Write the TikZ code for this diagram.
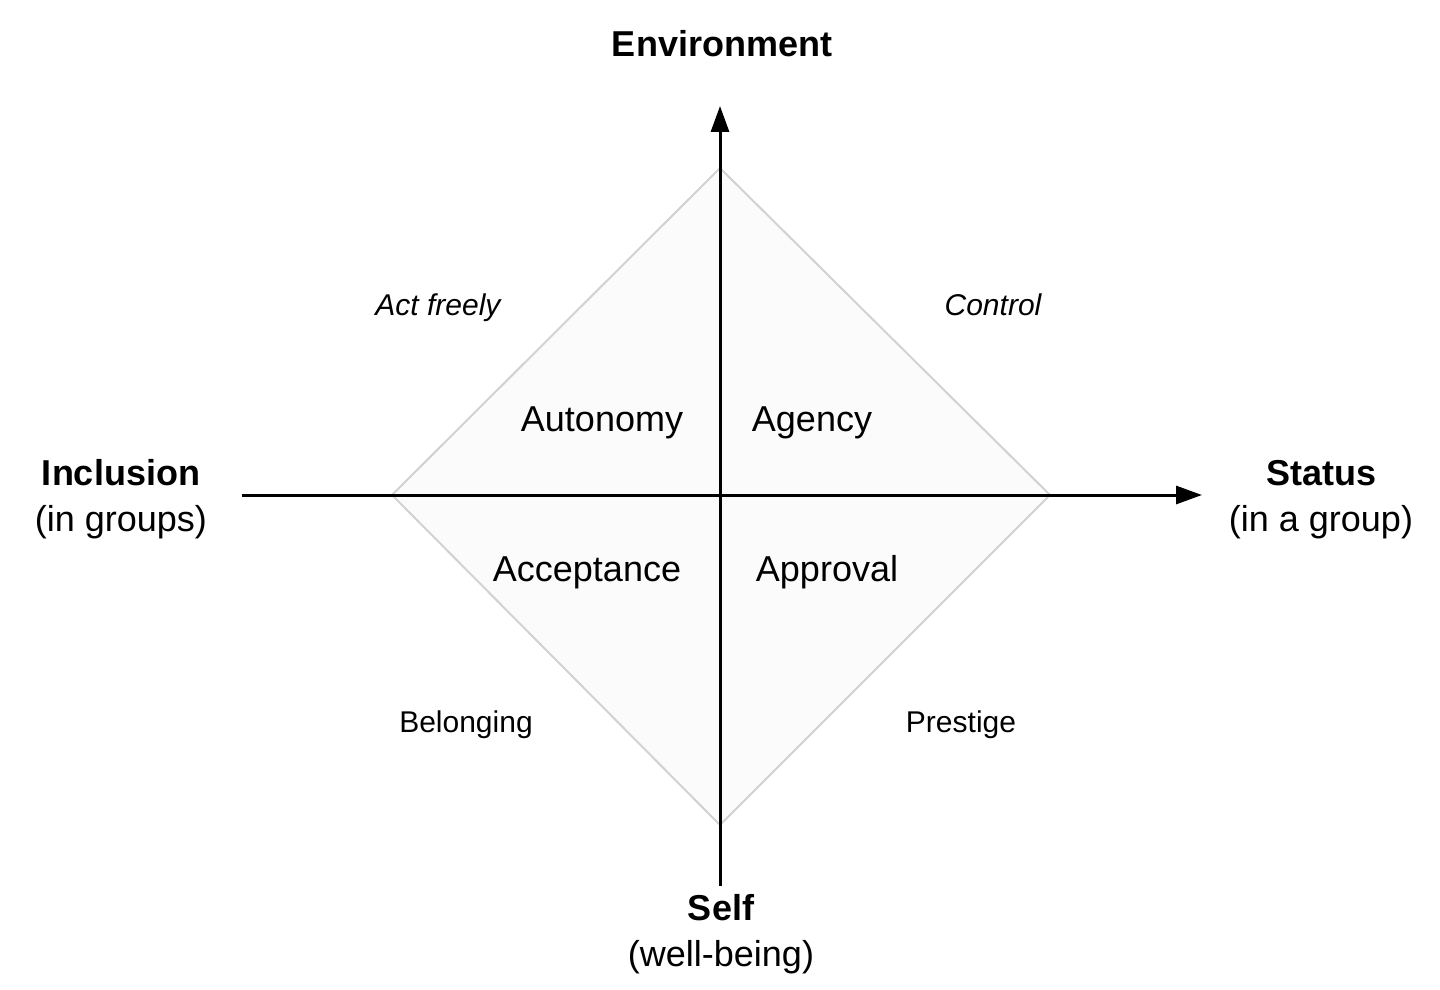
\documentclass[tikz,border=0pt]{standalone}
\usepackage{fontspec}
\setmainfont{Liberation Sans}
\usetikzlibrary{arrows.meta, positioning}

\begin{document}
\begin{tikzpicture}[x=0.5pt, y=-0.5pt]
            \useasboundingbox (0, 0) rectangle (1440, 990);
            % Diamond in the background
            \coordinate (dtop) at (720, 168);
            \coordinate (dright) at (1050, 495);
            \coordinate (dbottom) at (720, 825);
            \coordinate (dleft) at (392, 495);
            \draw[line width=1pt, draw=gray!35, fill=gray!3] (dtop) -- (dright) -- (dbottom) -- (dleft) -- cycle;

            % Axes
            \coordinate (xstart) at (242, 495);
            \coordinate (xend) at (1202, 495);
            \coordinate (ystart) at (720, 886);
            \coordinate (yend) at (720, 106);
            \draw[line width=1.5pt, -{Triangle[length=13pt, width=9pt]}] (xstart) -- (xend);
            \draw[line width=1.5pt, -{Triangle[length=13pt, width=9pt]}] (ystart) -- (yend);

            % Axis labels
            \node[font=\fontsize{18}{22}\selectfont\bfseries, anchor=base] (env) at (722, 57) {Environment};
            \node[font=\fontsize{18}{22}\selectfont\bfseries, anchor=base] (incl) at (121, 485) {Inclusion};
            \node[font=\fontsize{18}{22}\selectfont, anchor=base] (inclsub) at (121, 531) {(in groups)};
            \node[font=\fontsize{18}{22}\selectfont\bfseries, anchor=base] (stat) at (1321, 485) {Status};
            \node[font=\fontsize{18}{22}\selectfont, anchor=base] (statsub) at (1321, 531) {(in a group)};
            \node[font=\fontsize{18}{22}\selectfont\bfseries, anchor=base] (self) at (721, 920) {Self};
            \node[font=\fontsize{18}{22}\selectfont, anchor=base] (selfsub) at (721, 966) {(well-being)};

            % Quadrant names
            \node[font=\fontsize{18}{22}\selectfont, anchor=base] (auto) at (602, 431) {Autonomy};
            \node[font=\fontsize{18}{22}\selectfont, anchor=base] (agen) at (812, 431) {Agency};
            \node[font=\fontsize{18}{22}\selectfont, anchor=base] (acce) at (587, 581) {Acceptance};
            \node[font=\fontsize{18}{22}\selectfont, anchor=base] (appr) at (827, 581) {Approval};

            % Corner remarks
            \node[font=\fontsize{15}{18}\selectfont\itshape, anchor=base] (freely) at (438, 315) {Act freely};
            \node[font=\fontsize{15}{18}\selectfont\itshape, anchor=base] (ctrl) at (993, 315) {Control};
            \node[font=\fontsize{15}{18}\selectfont, anchor=base] (belong) at (466, 732) {Belonging};
            \node[font=\fontsize{15}{18}\selectfont, anchor=base] (prest) at (961, 732) {Prestige};
        \end{tikzpicture}
\end{document}
